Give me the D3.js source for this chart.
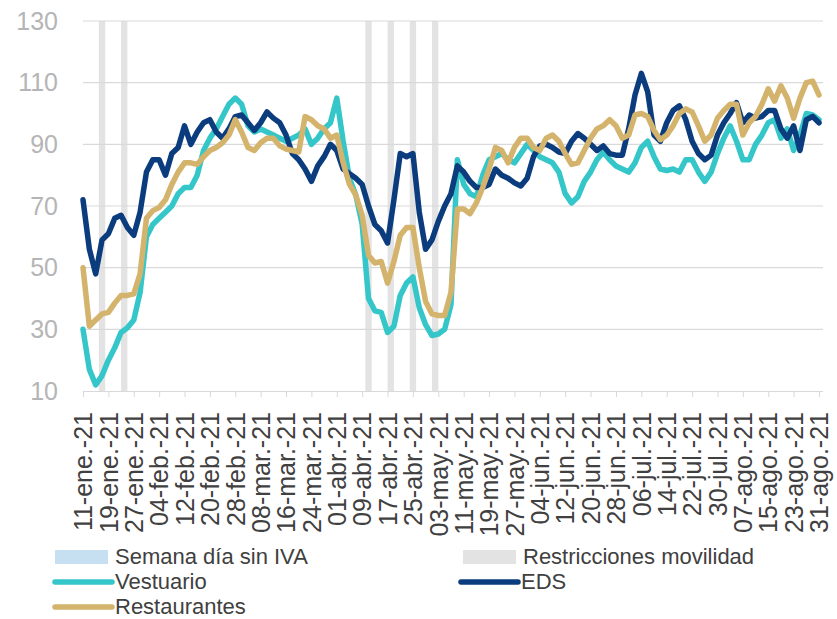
<!DOCTYPE html>
<html>
<head>
<meta charset="utf-8">
<script src="https://cdnjs.cloudflare.com/ajax/libs/d3/7.8.5/d3.min.js"></script>
<style>
  body { margin: 0; background: #fff; }
  svg { font-family: "Liberation Sans", Arial, sans-serif; }
  .axis path, .axis line { stroke: #d9d9d9; }
</style>
</head>
<body>
<svg id="chart" width="837" height="619"></svg>
<script>
// datos cada 2 dias, 11-ene-21 a 31-ago-21
var vestuario = [30, 17, 12, 15, 20, 24, 29, 30.5, 33, 42, 60, 64, 66, 68, 70, 74, 76, 76, 80, 88,
  92, 95, 99, 103, 105, 103, 96, 94, 95, 94, 93, 92, 91, 92, 93, 95, 90, 92, 95, 97,
  105, 91, 79, 73.5, 64, 40, 36, 35.5, 29, 31, 41, 45, 47, 37, 31.5, 28, 28.5, 30, 38, 85,
  77, 74, 73, 80, 85, 86, 87, 85, 84, 87, 90, 88, 86, 85, 84, 81, 74, 71, 73, 78,
  81, 85, 87.5, 85, 83, 82, 81, 84, 89, 91, 86, 82, 81.5, 82, 81, 85, 85, 81, 78, 81,
  87, 92, 96, 91, 85, 85, 90, 93, 97, 98, 92, 95, 88, 93, 100, 99.5, 98];
var eds = [72, 56, 48, 59, 61, 66, 67, 63, 60.5, 68, 81, 85, 85, 80, 87, 89, 96, 90, 94, 97,
  98, 94, 92, 95, 99, 99.5, 97, 94.5, 97, 100.5, 98.5, 97, 93, 87, 85, 82, 78, 83, 86, 90,
  88, 82, 80.5, 79, 77, 70, 64, 62, 58, 72, 87, 86, 87, 68, 56, 59, 65, 70, 74, 83,
  81, 78, 76, 76, 77, 82, 80, 79, 77.5, 76.5, 79, 86, 89.5, 90, 89, 87.5, 87, 91, 93.5, 92,
  90, 88, 89.5, 87, 86.5, 86.5, 95, 106, 113, 107, 93, 91, 97, 101, 102.5, 98, 91, 87, 85, 86.5,
  93, 97, 100, 103.5, 97, 99.5, 98.5, 99, 101, 101, 95, 92, 96, 88, 98, 99, 97];
var restaurantes = [50, 31, 33, 35, 35.5, 38.5, 41, 41, 41.5, 48, 66, 68.5, 69.5, 72, 77, 81, 84, 84, 83.5, 86,
  88, 89, 90.5, 93, 98, 94, 89, 88, 90.5, 92, 92, 89.5, 88.5, 88, 87.5, 99, 98, 96, 95, 92,
  93, 84, 77, 73.5, 67, 54, 51.5, 52, 45, 52, 60.5, 63, 63, 50, 39, 35, 34.5, 34.5, 42, 69,
  69, 67.5, 71, 76, 82, 89, 88, 84, 89, 92, 92, 89, 88, 92, 93, 91, 87, 83.5, 84, 88,
  92, 95, 96, 98, 96, 92, 93, 99.5, 100, 99, 94.5, 91.5, 93, 96, 100, 101.5, 100.5, 96, 91, 93,
  98.5, 101, 103, 103, 93, 97, 99, 103, 108, 104, 109, 105, 98.5, 105, 110, 110.5, 106];

var tickLabels = ["11-ene.-21", "19-ene.-21", "27-ene.-21", "04-feb.-21", "12-feb.-21", "20-feb.-21",
  "28-feb.-21", "08-mar.-21", "16-mar.-21", "24-mar.-21", "01-abr.-21", "09-abr.-21", "17-abr.-21",
  "25-abr.-21", "03-may.-21", "11-may.-21", "19-may.-21", "27-may.-21", "04-jun.-21", "12-jun.-21",
  "20-jun.-21", "28-jun.-21", "06-jul.-21", "14-jul.-21", "22-jul.-21", "30-jul.-21", "07-ago.-21",
  "15-ago.-21", "23-ago.-21", "31-ago.-21"];

var restricciones = [["2021-01-16", "2021-01-18"], ["2021-01-23", "2021-01-25"],
  ["2021-04-10", "2021-04-12"], ["2021-04-17", "2021-04-19"],
  ["2021-04-24", "2021-04-26"], ["2021-05-01", "2021-05-03"]];
var semanaSinIva = [];

var yTicks = [10, 30, 50, 70, 90, 110, 130];

var svg = d3.select("#chart"),
    margin = {top: 21, left: 83},
    width = 740,
    height = 370;

var parseDate = d3.timeParse("%Y-%m-%d");
var start = parseDate("2021-01-11"),
    end = parseDate("2021-08-31");
var dates = d3.timeDay.range(start, d3.timeDay.offset(end, 1), 2);
var tickDates = d3.timeDay.range(start, d3.timeDay.offset(end, 1), 8);

var x = d3.scaleTime().domain([start, end]).range([0, 736]);
var y = d3.scaleLinear().domain([10, 130]).range([height, 0]);

var g = svg.append("g")
    .attr("transform", "translate(" + margin.left + "," + margin.top + ")");

// bandas
g.selectAll(".restr")
  .data(restricciones)
  .enter().append("rect")
    .attr("x", function(d) { return x(parseDate(d[0])); })
    .attr("width", function(d) { return x(parseDate(d[1])) - x(parseDate(d[0])); })
    .attr("y", 0)
    .attr("height", height)
    .attr("fill", "#e3e3e3");

g.selectAll(".iva")
  .data(semanaSinIva)
  .enter().append("rect")
    .attr("x", function(d) { return x(parseDate(d[0])); })
    .attr("width", function(d) { return x(parseDate(d[1])) - x(parseDate(d[0])); })
    .attr("y", 0)
    .attr("height", height)
    .attr("fill", "#c6e0f2");

// grid
g.selectAll(".grid")
  .data(yTicks.slice(1))
  .enter().append("line")
    .attr("x1", 0)
    .attr("x2", width)
    .attr("y1", function(d) { return y(d); })
    .attr("y2", function(d) { return y(d); })
    .attr("stroke", "#d9d9d9")
    .attr("stroke-width", 1.2);

// eje y
var yAxis = g.append("g")
    .attr("class", "axis")
    .call(d3.axisLeft(y).tickValues(yTicks).tickSize(0).tickPadding(25));
yAxis.select(".domain").remove();
yAxis.selectAll("text")
    .attr("fill", "#b5b5b5")
    .style("font-size", "25px");

// eje x
var xAxis = g.append("g")
    .attr("class", "axis")
    .attr("transform", "translate(0," + height + ")")
    .call(d3.axisBottom(x).tickValues(tickDates).tickSize(6)
      .tickFormat(function(d, i) { return tickLabels[i]; }));
xAxis.select(".domain").attr("d", "M0,0.5H" + width).attr("stroke-width", 1.2);
xAxis.selectAll("text")
    .attr("fill", "#404040")
    .style("font-size", "25px")
    .attr("text-anchor", "end")
    .attr("transform", "rotate(-90)")
    .attr("x", -21)
    .attr("y", 0)
    .attr("dy", "0.35em");

// lineas
var series = [
  {name: "Vestuario", values: vestuario, color: "#35c6c9"},
  {name: "EDS", values: eds, color: "#0b3c7d"},
  {name: "Restaurantes", values: restaurantes, color: "#d4b36c"}
];

var line = d3.line()
    .x(function(d, i) { return x(dates[i]); })
    .y(function(d) { return y(d); });

series.forEach(function(s) {
  g.append("path")
    .datum(s.values)
    .attr("fill", "none")
    .attr("stroke", s.color)
    .attr("stroke-width", 5.5)
    .attr("stroke-linejoin", "round")
    .attr("stroke-linecap", "round")
    .attr("d", line);
});

// leyenda
var legend = svg.append("g").style("font-size", "22px").attr("fill", "#404040");

var legendItems = [
  {label: "Semana día sin IVA", type: "rect", color: "#c6e0f2", x: 55, y: 557},
  {label: "Restricciones movilidad", type: "rect", color: "#e3e3e3", x: 463, y: 557},
  {label: "Vestuario", type: "line", color: "#35c6c9", x: 55, y: 582},
  {label: "EDS", type: "line", color: "#0b3c7d", x: 461, y: 582},
  {label: "Restaurantes", type: "line", color: "#d4b36c", x: 55, y: 607}
];

legendItems.forEach(function(d) {
  if (d.type == "rect") {
    legend.append("rect")
      .attr("x", d.x)
      .attr("y", d.y - 7)
      .attr("width", 53)
      .attr("height", 14)
      .attr("fill", d.color);
  } else {
    legend.append("line")
      .attr("x1", d.x)
      .attr("x2", d.x + 57)
      .attr("y1", d.y)
      .attr("y2", d.y)
      .attr("stroke", d.color)
      .attr("stroke-width", 5.5)
      .attr("stroke-linecap", "round");
  }
  legend.append("text")
    .attr("x", d.x + 60)
    .attr("y", d.y + 7)
    .text(d.label);
});
</script>
</body>
</html>
